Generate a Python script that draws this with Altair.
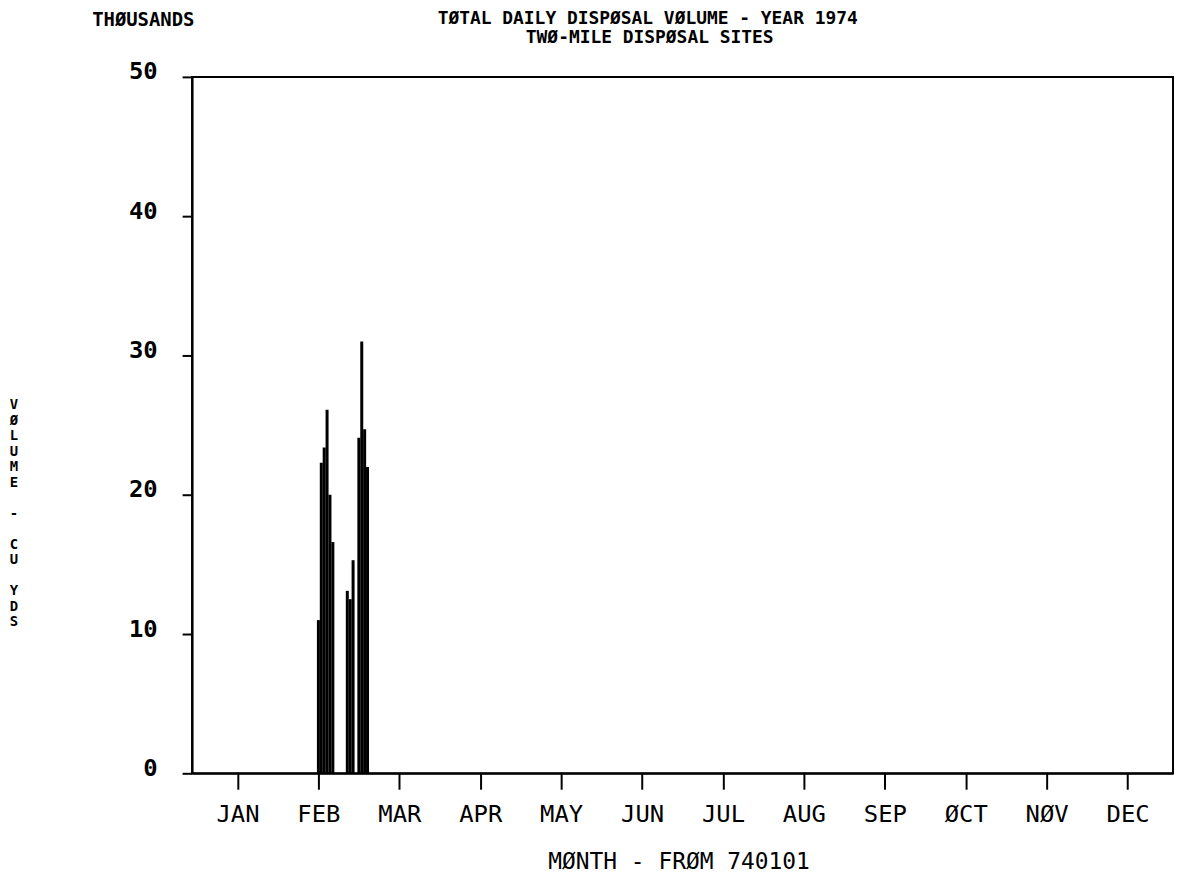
import altair as alt
import pandas as pd

months = ["JAN", "FEB", "MAR", "APR", "MAY", "JUN", "JUL", "AUG", "SEP", "ØCT", "NØV", "DEC"]
feb_days = [1, 2, 3, 4, 5, 6, 11, 12, 13, 15, 16, 17, 18]
volumes = [11.0, 22.3, 23.4, 26.1, 20.0, 16.6, 13.1, 12.5, 15.3, 24.1, 31.0, 24.7, 22.0]
y_ticks = [0, 10, 20, 30, 40, 50]
# vertical axis title: words and the text line (one character per line) where each starts
y_title_words = ["VØLUME", "-", "CU", "YDS"]
y_title_rows = [0, 7, 9, 12]
title_lines = ["TØTAL DAILY DISPØSAL VØLUME - YEAR 1974", "TWØ-MILE DISPØSAL SITES"]
corner_label = ["THØUSANDS"]

FONT = "DejaVu Sans Mono"
LINE_H = 15.6

df = pd.DataFrame({"day": feb_days, "volume": volumes})
label_expr = "[" + ",".join(f"'{m}'" for m in months) + "][datum.value]"

bars = alt.Chart(df).transform_calculate(
    pos="1 + (datum.day - 1) / 28"
).mark_bar(width=3, color="black").encode(
    x=alt.X(
        "pos:Q",
        scale=alt.Scale(domain=[-0.5, 11.5], nice=False, zero=False),
        axis=alt.Axis(
            values=list(range(12)),
            labelExpr=label_expr,
            title="MØNTH - FRØM 740101",
            grid=False,
            domainColor="black",
            domainWidth=2,
            tickColor="black",
            tickWidth=2,
            tickSize=16,
            labelPadding=13,
            labelFont=FONT,
            labelFontSize=24,
            labelColor="black",
            labelBaseline="top",
            titleFont=FONT,
            titleFontSize=23,
            titleFontWeight="normal",
            titleColor="black",
            titlePadding=25,
            titleX=489,
        ),
    ),
    y=alt.Y(
        "volume:Q",
        scale=alt.Scale(domain=[0, 50], nice=False),
        axis=alt.Axis(
            values=y_ticks,
            grid=False,
            domainColor="black",
            domainWidth=2,
            tickColor="black",
            tickWidth=2,
            tickSize=10,
            labelPadding=25,
            labelFont=FONT,
            labelFontSize=24,
            labelFontWeight="bold",
            labelColor="black",
            labelBaseline="alphabetic",
            labelOffset=2,
            title=None,
        ),
    ),
)

ytitle_df = pd.DataFrame({
    "t": ["\n".join(list(w)) for w in y_title_words],
    "row": y_title_rows,
})
y_title = alt.Chart(ytitle_df).transform_calculate(
    ypx=f"323 + datum.row * {LINE_H}"
).mark_text(
    font=FONT, fontSize=14, fontWeight="bold", color="black", align="center", baseline="top",
    lineBreak="\n", lineHeight=LINE_H
).encode(x=alt.value(-179), y=alt.Y("ypx:Q", scale=None), text="t:N")

corner = alt.Chart(pd.DataFrame({"t": corner_label})).mark_text(
    font=FONT, fontSize=19, fontWeight="bold", color="black", align="center", baseline="middle"
).encode(x=alt.value(-49), y=alt.value(-57.5), text="t:N")

title1 = alt.Chart(pd.DataFrame({"t": [title_lines[0]]})).mark_text(
    font=FONT, fontSize=18, fontWeight="bold", color="black", align="center", baseline="middle"
).encode(x=alt.value(458), y=alt.value(-58), text="t:N")

title2 = alt.Chart(pd.DataFrame({"t": [title_lines[1]]})).mark_text(
    font=FONT, fontSize=18, fontWeight="bold", color="black", align="center", baseline="middle"
).encode(x=alt.value(460), y=alt.value(-39), text="t:N")

chart = alt.layer(bars, y_title, corner, title1, title2).properties(
    width=986,
    height=700,
    padding={"left": 185, "top": 67, "right": 2, "bottom": 103},
    autosize=alt.AutoSizeParams(type="none"),
    view=alt.ViewBackground(stroke="black", strokeWidth=2, strokeOpacity=1),
).configure_view(stroke="black", strokeWidth=2).configure(background="white")

chart.save("out.html", embed_options={"renderer": "svg", "actions": False})
